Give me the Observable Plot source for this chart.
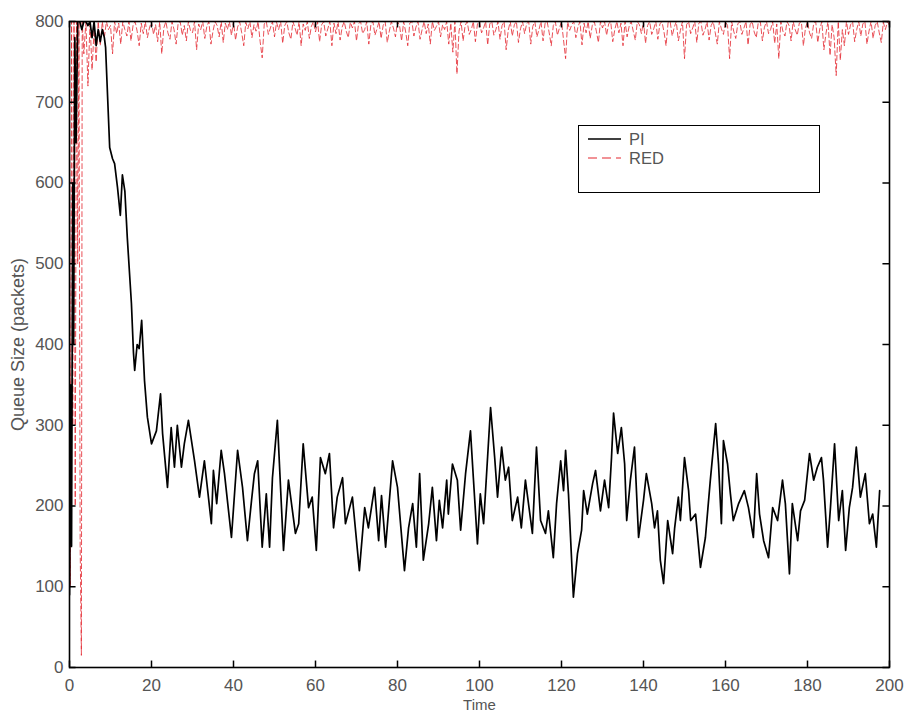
<!DOCTYPE html>
<html>
<head>
<meta charset="utf-8">
<script src="https://cdn.jsdelivr.net/npm/d3@7"></script>
<script src="https://cdn.jsdelivr.net/npm/@observablehq/plot@0.6"></script>
<style>
  html, body { margin: 0; padding: 0; background: #fff; }
  #wrap { position: relative; width: 906px; height: 713px; overflow: hidden; }
  #legend { position: absolute; left: 578px; top: 125px; width: 242px; height: 68px;
    border: 1.5px solid #000; background: #fff; font-family: "Liberation Sans", Arial, sans-serif;
    font-size: 16.5px; color: #555; box-sizing: border-box; }
  .row { position: absolute; left: 9px; height: 18px; display: flex; align-items: center; }
  .row svg { margin-right: 8px; }
</style>
</head>
<body>
<div id="wrap"></div>
<script>
// ---------- data ----------
const xTicks = [0, 20, 40, 60, 80, 100, 120, 140, 160, 180, 200];
const yTicks = [0, 100, 200, 300, 400, 500, 600, 700, 800];

const piTime = [0,0.3,0.5,0.8,1.0,1.3,1.6,2.0,2.5,3.0,3.5,4.0,4.5,5.0,5.5,6.0,6.5,7.0,7.5,8.0,8.5,8.8,
  9.8,10.5,11.0,11.7,12.4,12.9,13.5,14.1,15.1,15.6,15.9,16.5,17.0,17.6,18.3,19.0,20.0,21.2,22.2,22.7,23.9,24.8,
  25.6,26.3,27.3,28.0,29.0,30.5,31.7,32.9,34.6,35.1,35.9,37.0,37.8,39.5,41.0,42.2,43.4,44.4,45.1,45.9,47.0,48.0,
  48.8,49.5,50.7,52.2,53.4,55.1,55.9,57.0,58.3,59.2,60.2,61.2,62.4,63.4,64.4,65.3,66.6,67.3,69.0,70.7,72.0,72.9,
  74.4,75.4,76.1,77.1,78.8,80.0,81.7,82.7,83.7,84.6,85.4,86.3,87.6,88.5,89.5,90.2,91.0,92.0,92.4,93.4,94.6,95.4,
  96.6,97.8,98.5,99.5,100.2,101.0,102.7,103.7,104.4,105.4,106.3,107.1,108.0,109.3,110.2,111.2,112.9,113.9,114.9,
  116.1,116.8,118.0,118.8,119.8,120.5,121.0,121.7,122.9,123.9,124.9,125.4,126.3,127.6,128.3,129.5,130.5,131.5,
  132.2,132.7,133.7,134.6,135.4,135.9,136.8,137.8,138.8,140.0,140.7,142.0,142.7,143.4,144.1,144.9,145.9,147.1,
  147.6,148.5,149.0,150.0,151.0,151.5,152.7,153.9,155.1,156.3,157.6,158.3,159.0,159.5,160.5,161.2,161.9,163.2,
  164.6,165.6,166.8,167.6,168.3,169.3,170.5,171.5,172.7,173.9,174.6,175.6,176.3,177.6,178.3,179.3,180.5,181.5,
  182.4,183.4,183.9,184.9,185.6,186.6,187.6,188.5,189.3,190.2,191.0,191.9,192.9,194.1,195.1,195.9,196.8,197.6];
const piQueue = [90,350,150,600,400,780,650,800,800,790,800,800,795,800,780,800,770,790,775,790,780,768,
  644,630,624,595,560,610,590,532,451,390,368,400,395,430,355,310,277,293,339,290,223,297,
  248,300,248,277,306,256,211,256,178,244,203,269,240,161,269,223,157,207,240,256,149,215,
  149,235,306,145,232,166,178,277,198,211,145,260,240,265,173,211,235,178,211,120,198,173,
  223,157,213,149,256,223,120,173,203,149,240,133,178,223,157,207,173,232,190,252,232,170,
  240,293,235,153,215,178,322,260,211,273,232,248,182,211,173,232,166,273,182,
  166,194,136,203,256,219,269,215,87,141,170,219,190,228,244,194,232,198,
  260,315,265,297,252,182,232,273,161,207,240,203,173,194,133,104,182,141,
  173,211,182,260,219,182,190,124,161,232,302,252,178,281,252,215,182,203,
  219,198,161,240,190,157,136,198,182,232,203,116,203,157,194,207,265,232,
  248,260,232,149,198,277,182,219,145,198,223,273,211,240,178,190,149,219];

// RED: start-up oscillation, then samples every 0.5 s from t = 10
const redEarlyTime = [0,0.2,0.5,0.8,1.1,1.4,1.7,2.0,2.3,2.6,2.9,3.1,3.5,4.0,4.5,5.0,5.5,6.0,6.5,7.0,7.5,8.0,8.5,9.0,9.5];
const redEarlyQueue = [780,100,800,300,800,200,800,500,800,150,15,800,760,800,720,800,740,790,750,800,770,800,780,800,790];
const redStart = 10, redStep = 0.5;
const redQueue = [
  795,760,800,785,798,772,800,790,782,800,776,795,800,788,770,798,785,800,780,792,
  800,784,796,775,800,760,792,800,786,778,800,790,772,798,800,783,795,776,800,789,
  786,800,765,797,790,800,779,794,800,772,788,800,795,781,800,774,798,790,800,783,
  800,777,793,800,786,770,799,791,800,780,796,788,800,775,755,797,800,784,792,800,
  781,799,790,800,773,795,800,786,778,800,792,783,800,770,797,789,800,779,794,800,
  787,800,775,796,800,782,791,800,770,798,785,800,777,793,800,788,780,799,792,800,
  776,797,800,785,790,800,772,796,800,783,791,800,779,795,800,774,788,800,792,781,
  800,795,776,800,787,770,798,800,782,793,800,778,790,800,785,797,772,800,789,794,
  800,781,796,790,800,772,798,762,800,735,788,800,776,795,800,784,790,800,775,797,
  800,786,792,800,771,797,800,783,790,800,778,795,800,765,789,800,782,796,800,774,
  791,800,785,797,800,772,794,800,781,790,800,776,798,800,786,770,795,800,783,792,
  800,777,754,800,789,796,800,780,793,800,771,798,786,800,779,795,800,788,774,800,
  792,800,783,797,800,775,790,800,786,798,770,800,781,794,800,788,777,800,796,785,
  800,773,795,800,784,791,800,778,797,800,787,770,799,800,782,793,800,776,789,800,
  754,796,800,785,792,800,774,798,800,783,790,800,777,795,800,786,772,800,791,784,
  800,795,754,800,788,779,797,800,784,792,800,771,796,800,787,780,799,800,776,793,
  800,785,790,800,773,797,754,800,788,782,800,795,776,800,790,783,798,800,770,792,
  800,786,779,797,800,774,791,800,765,785,800,758,796,780,733,800,752,790,770,800,
  784,796,800,775,790,800,782,797,800,772,788,800,779,795,800,786,774,799,790,800,
  795];

// ---------- tables ----------
const pi = piTime.map((t, i) => ({t, q: piQueue[i]}));
const red = redEarlyTime.map((t, i) => ({t, q: redEarlyQueue[i]}))
  .concat(redQueue.map((q, i) => ({t: redStart + i * redStep, q})));

const font = "'Liberation Sans', Arial, Helvetica, sans-serif";
const txt = "#555";

const chart = Plot.plot({
  width: 906,
  height: 713,
  marginLeft: 69,
  marginRight: 17,
  marginTop: 21,
  marginBottom: 46,
  x: {domain: [0, 200]},
  y: {domain: [0, 800]},
  style: {fontFamily: font, color: "#000", background: "#fff"},
  marks: [
    Plot.line(red, {x: "t", y: "q", stroke: "#e3262e", strokeWidth: 1, strokeDasharray: "5,3", strokeOpacity: 0.8, clip: true}),
    Plot.line(pi, {x: "t", y: "q", stroke: "#000", strokeWidth: 1.7, clip: true}),
    Plot.frame({stroke: "#000", strokeWidth: 1.6}),
    // inward ticks on all four sides
    Plot.ruleX(xTicks, {x: d => d, y1: 0, y2: 8, stroke: "#000", strokeWidth: 1.5}),
    Plot.ruleX(xTicks, {x: d => d, y1: 792, y2: 800, stroke: "#000", strokeWidth: 1.5}),
    Plot.ruleY(yTicks, {y: d => d, x1: 0, x2: 1.6, stroke: "#000", strokeWidth: 1.5}),
    Plot.ruleY(yTicks, {y: d => d, x1: 198.4, x2: 200, stroke: "#000", strokeWidth: 1.5}),
    Plot.axisX({ticks: xTicks, tickSize: 0, tickPadding: 11, fontSize: 17, fill: txt, stroke: "none", strokeOpacity: 0, label: null}),
    Plot.axisY({ticks: yTicks, tickSize: 0, tickPadding: 6, fontSize: 17, fill: txt, stroke: "none", strokeOpacity: 0, label: null}),
    Plot.text(["Time"], {frameAnchor: "bottom", dy: 32, lineAnchor: "top", textAnchor: "middle", fontSize: 15, fill: txt}),
    Plot.text(["Queue Size (packets)"], {frameAnchor: "left", dx: -51, rotate: -90, textAnchor: "middle", fontSize: 18, fill: txt})
  ]
});

const wrap = document.getElementById("wrap");
wrap.appendChild(chart);

const legend = document.createElement("div");
legend.id = "legend";
legend.innerHTML = `
  <div class="row" style="top:4px"><svg width="33" height="4"><line x1="0" y1="2" x2="33" y2="2" stroke="#000" stroke-width="1.5"/></svg><span>PI</span></div>
  <div class="row" style="top:23px"><svg width="33" height="4"><line x1="0" y1="2" x2="33" y2="2" stroke="#e3262e" stroke-width="1.2" stroke-dasharray="9,5"/></svg><span>RED</span></div>`;
wrap.appendChild(legend);
</script>
</body>
</html>
